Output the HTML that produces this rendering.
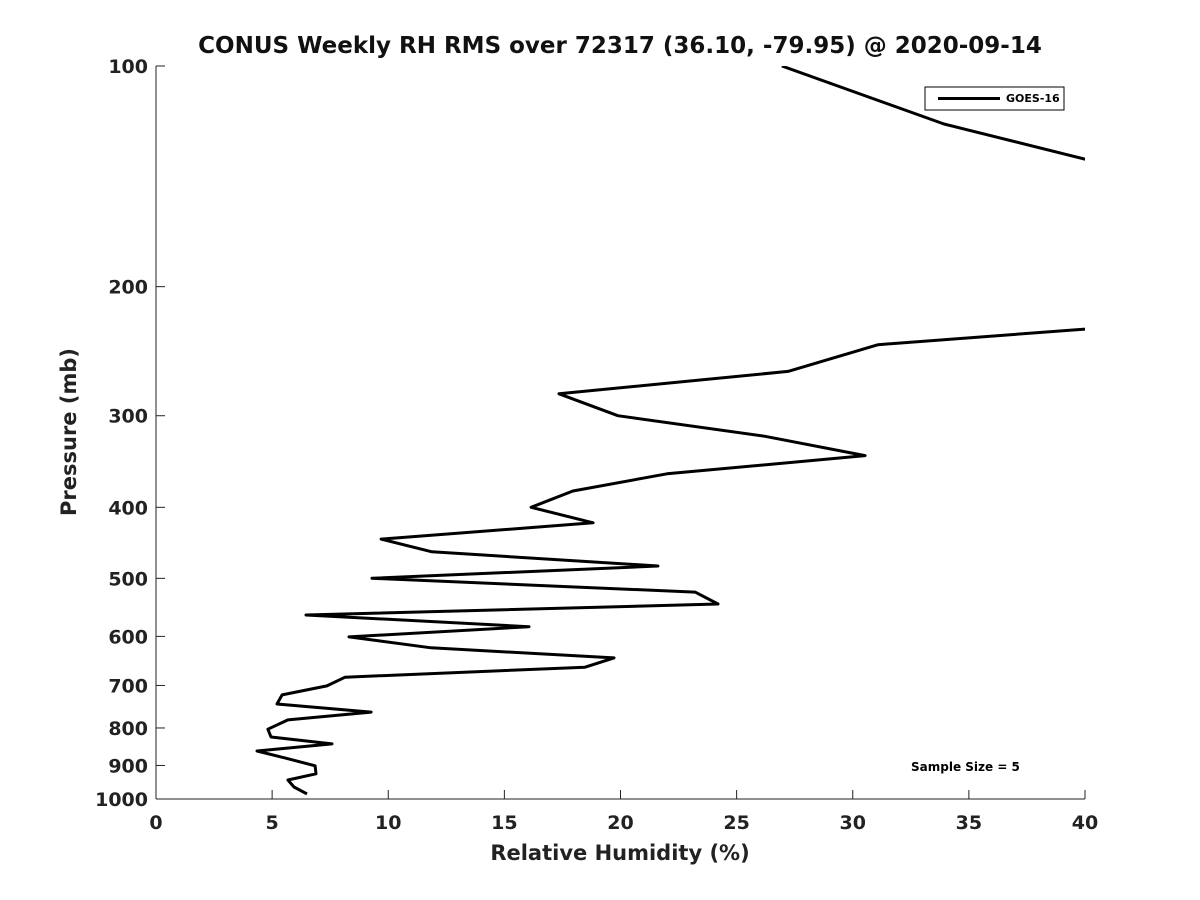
<!DOCTYPE html>
<html><head><meta charset="utf-8"><style>
body{margin:0;background:#fff;}
svg{display:block;font-family:"DejaVu Sans","Liberation Sans",sans-serif;font-weight:bold;}
</style></head><body>
<svg id="chart" width="1200" height="900">
<text x="620" y="53" text-anchor="middle" font-size="23" fill="#111">CONUS Weekly RH RMS over 72317 (36.10, -79.95) @ 2020-09-14</text>
<g id="axes"></g>
<defs><clipPath id="plotclip"><rect x="156" y="66" width="929" height="733"/></clipPath></defs>
<path id="series" clip-path="url(#plotclip)" fill="none" stroke="#000" stroke-width="3" stroke-linejoin="round"/>
<text x="620" y="860" text-anchor="middle" font-size="21" fill="#222">Relative Humidity (%)</text>
<text transform="translate(76,432) rotate(-90)" text-anchor="middle" font-size="21" fill="#222">Pressure (mb)</text>
<g>
<rect x="925" y="87" width="139" height="23" fill="#fff" stroke="#000" stroke-width="1"/>
<line x1="938" y1="98.5" x2="1000" y2="98.5" stroke="#000" stroke-width="3"/>
<text x="1006" y="102" font-size="11" fill="#000">GOES-16</text>
</g>
<text x="911" y="771" font-size="12" fill="#000">Sample Size = 5</text>
</svg>
<script>
const rhValues=[26.95,33.93,40,60,40,31.09,27.21,17.35,19.89,26.22,30.53,22.0,17.95,16.15,18.82,9.69,11.88,21.61,9.3,23.21,24.2,6.46,16.06,8.31,11.84,19.72,18.47,8.14,7.36,5.43,5.21,9.26,5.68,4.82,4.95,7.58,4.35,5.55,6.85,6.89,5.68,5.94,6.5];
const pressures=[100,120,134,180,228.5,240,261,280,300,320,340,360,380,400,420,442,460,481,500,522,542,561,582,601,622,642,661,682,701,721,742,761,780,803,823,841,860,879,901,924,942,963,984];
const xTicks=[0,5,10,15,20,25,30,35,40];
const yTicks=[100,200,300,400,500,600,700,800,900,1000];
const X0=156,X1=1085,Y0=66,Y1=799;
const xs=v=>X0+(v-0)/(40-0)*(X1-X0);
const ys=p=>Y0+(Math.log10(p)-2)*(Y1-Y0);
const NS="http://www.w3.org/2000/svg";
const ax=document.getElementById('axes');
function mk(t,a){const e=document.createElementNS(NS,t);for(const k in a)e.setAttribute(k,a[k]);return e;}
let l=mk('line',{x1:X0,y1:Y0,x2:X0,y2:Y1,stroke:'#222','stroke-width':1});


ax.appendChild(l);
l=mk('line',{x1:X0,y1:Y1,x2:X1,y2:Y1,stroke:'#222','stroke-width':1});


ax.appendChild(l);
xTicks.forEach(v=>{
 const x=xs(v);
 const t=mk('line',{x1:x,y1:Y1,x2:x,y2:Y1-9,stroke:'#222'});
 
 
 ax.appendChild(t);
 const tx=mk('text',{x:x,y:Y1+30,'text-anchor':'middle','font-size':19,fill:'#222'});
 tx.textContent=v;
 
 
 ax.appendChild(tx);
});
yTicks.forEach(p=>{
 const y=ys(p);
 const t=mk('line',{x1:X0,y1:y,x2:X0+9,y2:y,stroke:'#222'});
 
 
 ax.appendChild(t);
 const tx=mk('text',{x:X0-8,y:y+7,'text-anchor':'end','font-size':19,fill:'#222'});
 tx.textContent=p;
 
 
 ax.appendChild(tx);
});
document.getElementById('series').setAttribute('d',rhValues.map((v,i)=>(i?'L':'M')+xs(v).toFixed(1)+','+ys(pressures[i]).toFixed(1)).join(' '));
</script>
</body></html>
